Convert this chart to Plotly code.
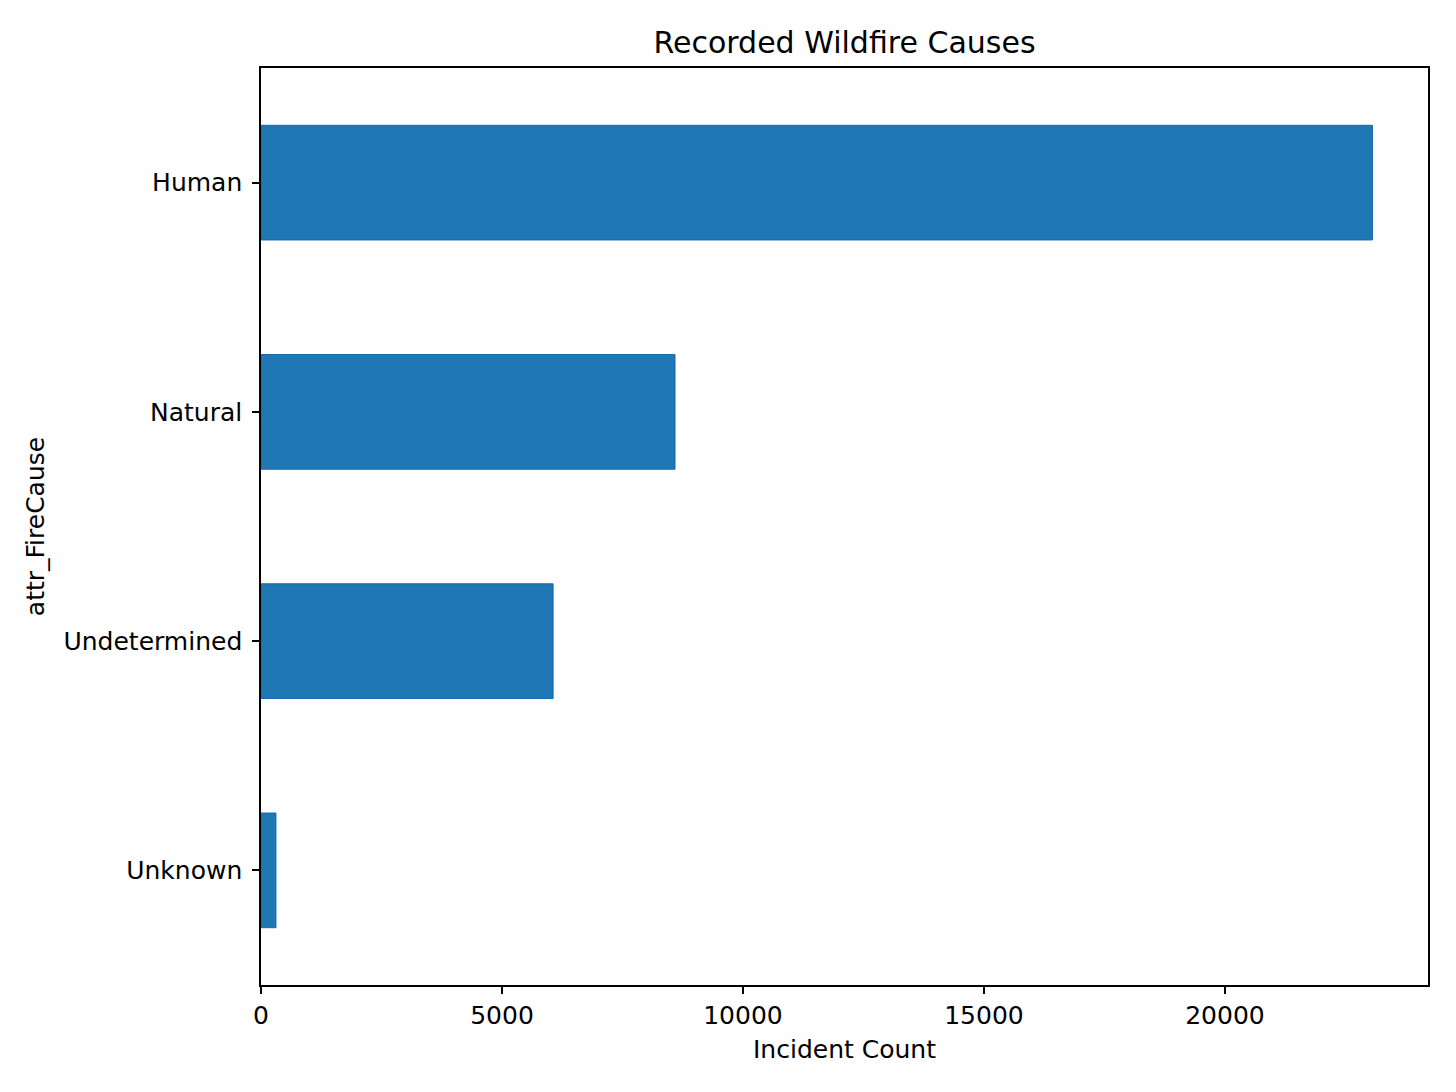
import plotly.graph_objects as go

# Wildfire cause counts
causes = ["Human", "Natural", "Undetermined", "Unknown"]
counts = [23060, 8590, 6060, 310]
x_ticks = [0, 5000, 10000, 15000, 20000]

BAR_COLOR = "#1f77b4"
FONT = "DejaVu Sans"

fig = go.Figure()
fig.add_trace(go.Bar(
    x=counts,
    y=causes,
    orientation="h",
    width=0.5,
    marker=dict(color=BAR_COLOR, line=dict(color="#1565b0", width=1)),
    showlegend=False,
))

# page body adds an 8px offset, so margins are shifted to compensate
fig.update_layout(
    width=1456,
    height=1092,
    paper_bgcolor="white",
    plot_bgcolor="white",
    margin=dict(l=253, r=36, t=60, b=115),
    font=dict(family=FONT, size=25, color="black"),
    title=dict(
        text="Recorded Wildfire Causes",
        font=dict(family=FONT, size=30, color="black"),
        x=(253 + 1420) / 2 / 1456,
        xanchor="center",
        y=1 - 34 / 1092,
        yanchor="middle",
    ),
    bargap=0.5,
)

fig.update_xaxes(
    range=[0, max(counts) * 1.05],
    tickvals=x_ticks,
    ticktext=[str(v) for v in x_ticks],
    ticks="outside",
    ticklen=7,
    tickwidth=1.5,
    tickcolor="black",
    ticklabelstandoff=0,
    showline=True,
    linecolor="black",
    linewidth=1.5,
    mirror=True,
    showgrid=False,
    zeroline=False,
    title=dict(text="Incident Count", font=dict(family=FONT, size=25), standoff=12),
)

fig.update_yaxes(
    categoryorder="array",
    categoryarray=causes,
    range=[len(causes) - 0.5, -0.5],
    ticks="outside",
    ticklen=7,
    tickwidth=1.5,
    tickcolor="black",
    ticklabelstandoff=5,
    showline=True,
    linecolor="black",
    linewidth=1.5,
    mirror=True,
    showgrid=False,
    zeroline=False,
    title=dict(text="attr_FireCause", font=dict(family=FONT, size=25), standoff=12),
)

fig.write_html("out.html")
